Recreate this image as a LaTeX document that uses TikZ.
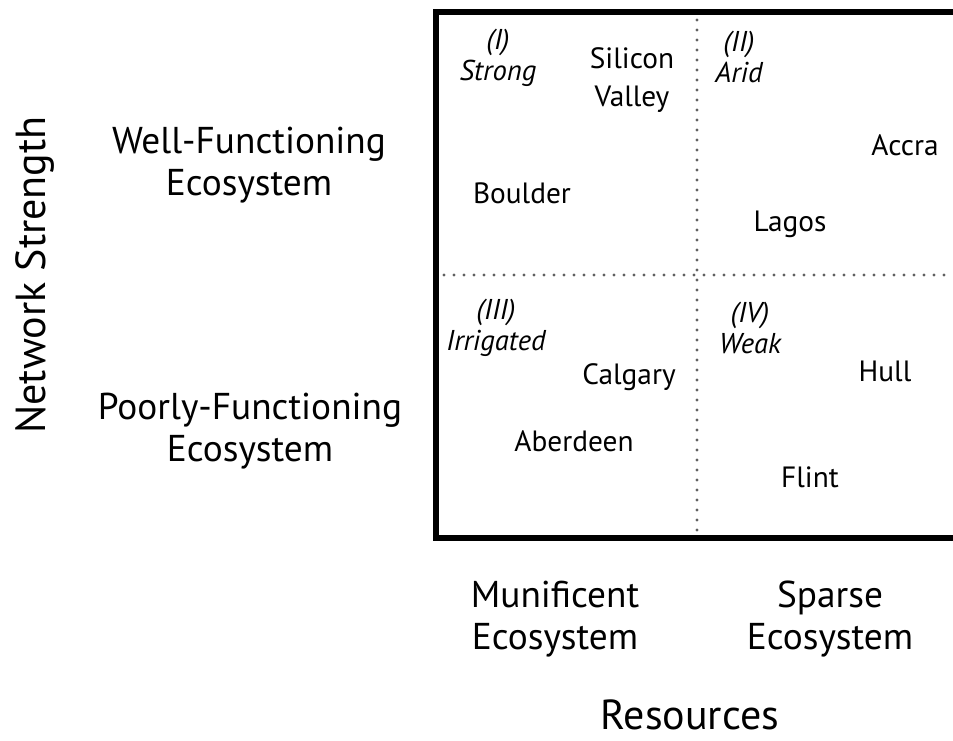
\documentclass[tikz,border=0pt]{standalone}
\usepackage{fontspec}
\setmainfont{PT Sans}
\begin{document}
\begin{tikzpicture}[x=0.75pt,y=-0.75pt,
  lbl/.style={inner sep=0pt,align=center,font=\fontsize{22}{28}\selectfont},
  qlbl/.style={inner sep=0pt,align=center,font=\fontsize{21.5}{23}\selectfont\itshape},
  axlbl/.style={inner sep=0pt,align=center,font=\fontsize{28}{31.5}\selectfont},
  titlbl/.style={inner sep=0pt,font=\fontsize{31.5}{36}\selectfont},
  dotline/.style={gray!75!black,line width=2.5pt,line cap=round,dash pattern=on 0pt off 7.5pt}]
\useasboundingbox (0,0) rectangle (953,740);
\clip (0,0) rectangle (953,740);
\fill[white] (0,0) rectangle (953,740);
% box
\coordinate (tl) at (435.5,12);
\coordinate (br) at (970,538);
\draw[line width=4.5pt] (tl) rectangle (br);
% dotted dividers
\coordinate (vt) at (697,20);
\coordinate (vb) at (697,532);
\coordinate (hl) at (444,275);
\coordinate (hr) at (953,275);
\draw[dotline] (vt) -- (vb);
\draw[dotline] (hl) -- (hr);
% quadrant labels
\node[qlbl] (q1) at (498,58) {(I)\\Strong};
\node[qlbl] (q2) at (739,57) {(II)\\Arid};
\node[qlbl] (q3) at (496,328) {(III)\\Irrigated};
\node[qlbl] (q4) at (750,328) {(IV)\\Weak};
% cities
\node[lbl] (sv) at (632,80) {Silicon\\Valley};
\node[lbl] (accra) at (905,145) {Accra};
\node[lbl] (boulder) at (522,193) {Boulder};
\node[lbl] (lagos) at (790,224) {Lagos};
\node[lbl] (calgary) at (629,377) {Calgary};
\node[lbl] (aberdeen) at (574,441) {Aberdeen};
\node[lbl] (hull) at (885,371) {Hull};
\node[lbl] (flint) at (810,477) {Flint};
% axis category labels
\node[axlbl] (well) at (249,165) {Well-Functioning\\Ecosystem};
\node[axlbl] (poor) at (250,431) {Poorly-Functioning\\Ecosystem};
\node[axlbl] (muni) at (555,619) {Munificent\\Ecosystem};
\node[axlbl] (sparse) at (830,619) {Sparse\\Ecosystem};
% axis titles
\node[titlbl,rotate=90] (ns) at (35,275) {Network Strength};
\node[titlbl] (res) at (690,715) {Resources};
\end{tikzpicture}
\end{document}
